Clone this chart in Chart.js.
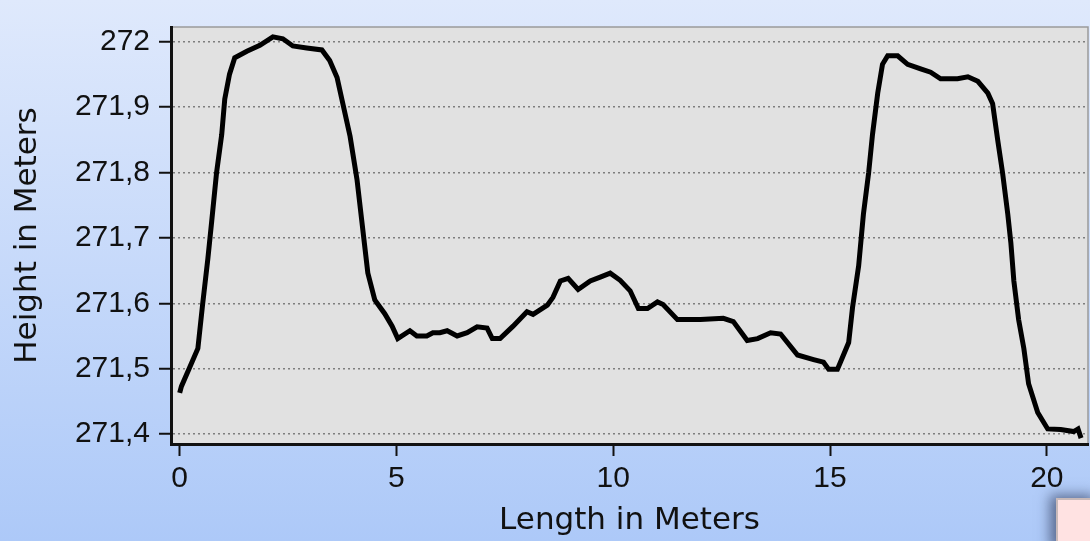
<!DOCTYPE html>
<html>
<head>
<meta charset="utf-8">
<script src="https://cdn.jsdelivr.net/npm/chart.js@4/dist/chart.umd.min.js"></script>
<style>
  html, body { margin: 0; padding: 0; }
  body {
    width: 1090px; height: 541px; overflow: hidden; position: relative;
    background: linear-gradient(to bottom, #dfe9fc 0%, #c6d9fa 50%, #adc9f8 100%);
  }
  #wrap { position: absolute; left: 0; top: 0; width: 1090px; height: 541px; }
  #note {
    position: absolute; left: 1056px; top: 498px; width: 40px; height: 50px;
    background: #ffe2e2; border: 2px solid #c8b9b9;
    box-shadow: -6px -3px 12px rgba(20, 30, 60, 0.55);
  }
</style>
</head>
<body>
<div id="wrap"><canvas id="chart" width="1090" height="541"></canvas></div>
<div id="note"></div>
<script>
// profile measured along the section (meters)
const lengths = [
  0, 0.04, 0.23, 0.42, 0.53, 0.65, 0.74, 0.85, 0.97, 1.04,
  1.15, 1.27, 1.55, 1.85, 2.15, 2.38, 2.61, 2.93, 3.28, 3.46,
  3.63, 3.76, 3.93, 4.09, 4.20, 4.34, 4.50, 4.73, 4.90, 5.03,
  5.31, 5.47, 5.70, 5.84, 6.00, 6.17, 6.40, 6.63, 6.86, 7.09,
  7.21, 7.39, 7.69, 8.01, 8.15, 8.48, 8.61, 8.78, 8.96, 9.19,
  9.47, 9.70, 9.93, 10.16, 10.39, 10.58, 10.79, 11.02, 11.15, 11.48,
  12.01, 12.54, 12.77, 13.09, 13.33, 13.63, 13.86, 14.25, 14.62, 14.85,
  14.97, 15.17, 15.24, 15.43, 15.52, 15.66, 15.77, 15.89, 15.98, 16.10,
  16.21, 16.33, 16.56, 16.79, 17.09, 17.32, 17.55, 17.94, 18.18, 18.41,
  18.64, 18.75, 18.87, 18.98, 19.10, 19.17, 19.24, 19.35, 19.47, 19.58,
  19.79, 20.02, 20.32, 20.62, 20.72, 20.79
];
const heights = [
  271.463, 271.473, 271.502, 271.531, 271.599, 271.668, 271.726, 271.799, 271.858, 271.912,
  271.950, 271.975, 271.985, 271.994, 272.007, 272.004, 271.993, 271.990, 271.987, 271.971,
  271.945, 271.906, 271.855, 271.789, 271.726, 271.646, 271.605, 271.584, 271.565, 271.546,
  271.558, 271.550, 271.550, 271.555, 271.555, 271.558, 271.550, 271.555, 271.564, 271.562,
  271.546, 271.546, 271.565, 271.587, 271.583, 271.597, 271.609, 271.634, 271.638, 271.621,
  271.634, 271.640, 271.646, 271.635, 271.619, 271.592, 271.592, 271.602, 271.598, 271.575,
  271.575, 271.577, 271.572, 271.543, 271.546, 271.555, 271.553, 271.521, 271.514, 271.510,
  271.499, 271.499, 271.510, 271.540, 271.594, 271.657, 271.736, 271.799, 271.858, 271.921,
  271.965, 271.978, 271.978, 271.965, 271.958, 271.953, 271.943, 271.943, 271.946, 271.939,
  271.921, 271.905, 271.848, 271.799, 271.736, 271.693, 271.634, 271.575, 271.531, 271.477,
  271.433, 271.408, 271.407, 271.404, 271.408, 271.394
];
const xTickStep = 5;
const yTickStep = 0.1;

const points = lengths.map((x, i) => ({ x: x, y: heights[i] }));

// grey plot area with thin grey frame on top/right
const plotBackground = {
  id: 'plotBackground',
  beforeDraw(chart) {
    const { ctx, chartArea: a } = chart;
    ctx.save();
    ctx.fillStyle = '#e1e1e1';
    ctx.fillRect(a.left, a.top, a.right - a.left, a.bottom - a.top);
    ctx.strokeStyle = '#9a9a9a';
    ctx.lineWidth = 1.5;
    ctx.strokeRect(a.left, a.top, a.right - a.left, a.bottom - a.top);
    ctx.restore();
  }
};

const tickFont = { family: '"Liberation Sans", Arial, sans-serif', size: 30 };
const titleFont = { family: '"DejaVu Sans", sans-serif', size: 31 };

new Chart(document.getElementById('chart'), {
  type: 'line',
  data: {
    datasets: [{
      data: points,
      borderColor: '#000000',
      borderWidth: 5,
      pointRadius: 0,
      tension: 0,
      fill: false
    }]
  },
  options: {
    responsive: false,
    animation: false,
    layout: { padding: { top: 8, right: 2, left: 0, bottom: 0 } },
    plugins: { legend: { display: false }, tooltip: { enabled: false } },
    scales: {
      x: {
        type: 'linear',
        min: -0.2,
        max: 20.95,
        afterFit(scale) { scale.height = 97; },
        border: { color: '#111111', width: 3 },
        grid: { drawOnChartArea: false, drawTicks: true, tickLength: 12, tickColor: '#111111', tickWidth: 2 },
        ticks: { stepSize: xTickStep, includeBounds: false, color: '#111111', font: tickFont, padding: 5, maxRotation: 0 },
        title: { display: true, text: 'Length in Meters', color: '#111111', font: titleFont, padding: { top: 0, bottom: 1 } }
      },
      y: {
        min: 271.385,
        max: 272.022,
        afterFit(scale) { scale.width = 171; },
        border: { color: '#111111', width: 3, dash: [2, 3] },
        grid: {
          color: '#7e7e7e',
          lineWidth: 1.5,
          drawTicks: true,
          tickLength: 12,
          tickColor: '#111111',
          tickWidth: 2,
          tickBorderDash: []
        },
        ticks: {
          stepSize: yTickStep,
          includeBounds: false,
          color: '#111111',
          font: tickFont,
          padding: 9,
          callback: v => String(Number(v.toFixed(1))).replace('.', ',')
        },
        title: { display: true, text: 'Height in Meters', color: '#111111', font: titleFont, padding: { top: 9, bottom: 0 } }
      }
    }
  },
  plugins: [plotBackground]
});
</script>
</body>
</html>
